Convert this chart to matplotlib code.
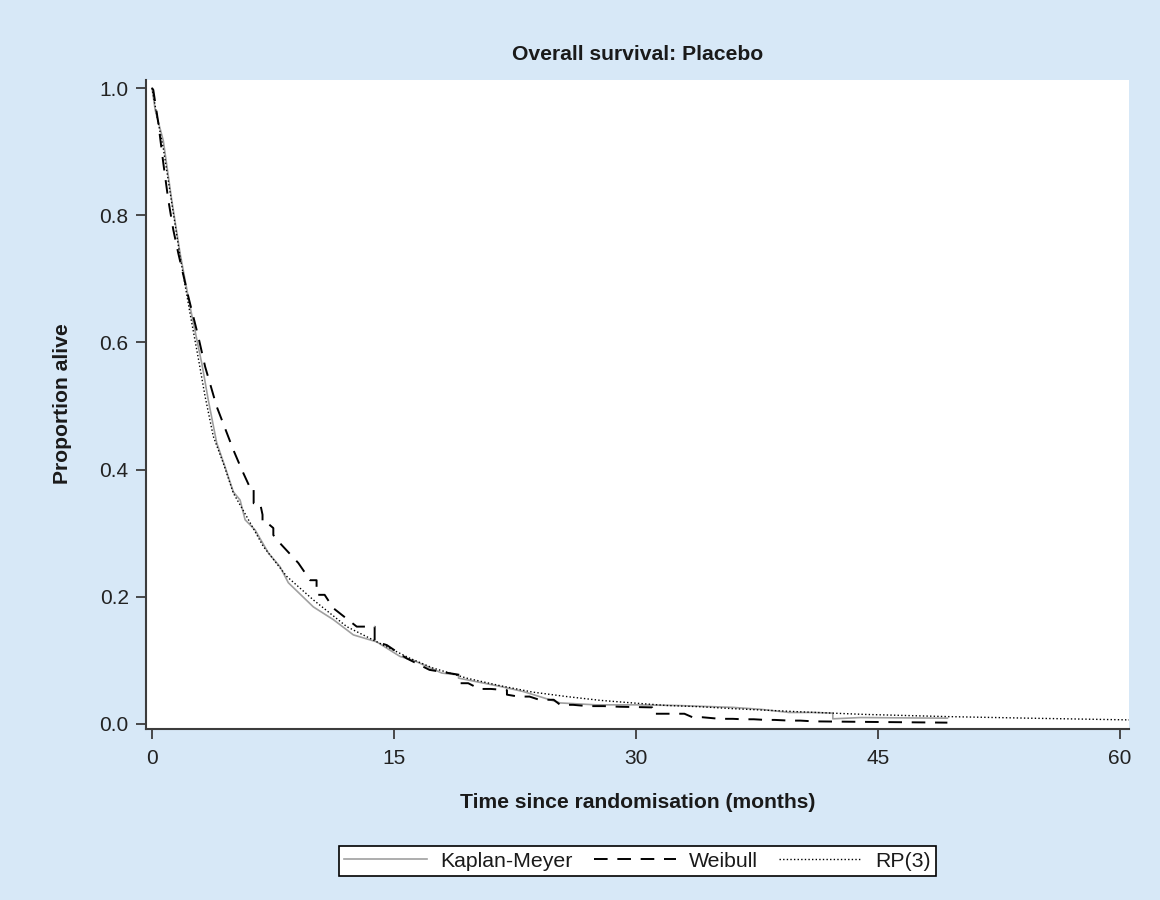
import matplotlib.pyplot as plt
from matplotlib.ticker import FormatStrFormatter

plt.rcParams['font.family'] = ['Liberation Sans', 'DejaVu Sans']

# Kaplan-Meier estimate
km_t = [0, 0.2, 0.7, 1.22, 1.74, 2.36, 2.87, 3.1, 3.49, 4.01, 4.53, 5.04, 5.46, 5.77,
        6.39, 7.21, 7.94, 8.45, 10.0, 11.24, 12.48, 13.93, 15.38, 16.2, 17.96, 19.0,
        19.0, 21.57, 23.0, 25.3, 27.5, 30.0, 32.5, 36.0, 37.7, 39.5, 41.0, 42.2, 42.2,
        43.9, 49.3]
km_s = [1.0, 0.965, 0.917, 0.824, 0.74, 0.656, 0.593, 0.565, 0.509, 0.442, 0.404, 0.365,
        0.352, 0.321, 0.305, 0.269, 0.247, 0.222, 0.184, 0.164, 0.140, 0.129, 0.106,
        0.10, 0.080, 0.077, 0.072, 0.059, 0.051, 0.033, 0.030, 0.030, 0.029, 0.026,
        0.023, 0.018, 0.018, 0.017, 0.008, 0.010, 0.009]

# Weibull fit (dashed, with steps)
wb_t = [0, 0.08, 0.39, 0.70, 1.01, 1.32, 1.63, 2.25, 2.87, 3.29, 4.01, 5.04, 5.56, 6.03,
        6.3, 6.3, 6.7, 6.85, 6.85, 7.1, 7.52, 7.52, 7.94, 9.07, 9.8, 10.2, 10.2, 10.7,
        11.24, 12.69, 13.8, 13.8, 14.55, 15.79, 17.2, 19.1, 19.1, 19.6, 20.3, 21.0, 22.0,
        22.0, 22.7, 23.4, 24.0, 24.9, 25.3, 26.1, 27.0, 28.0, 29.0, 31.0, 31.0, 33.0,
        33.5, 34.1, 35.2, 36.0, 36.6, 37.3, 38.0, 38.6, 39.5, 40.2, 41.0, 45.0, 49.3]
wb_s = [1.0, 0.997, 0.945, 0.882, 0.824, 0.777, 0.74, 0.672, 0.609, 0.562, 0.499, 0.431,
        0.40, 0.374, 0.374, 0.347, 0.347, 0.329, 0.317, 0.317, 0.308, 0.297, 0.284,
        0.253, 0.226, 0.226, 0.203, 0.203, 0.182, 0.153, 0.153, 0.13, 0.124, 0.103,
        0.085, 0.077, 0.064, 0.064, 0.055, 0.055, 0.053, 0.046, 0.043, 0.043, 0.038,
        0.038, 0.030, 0.030, 0.028, 0.028, 0.027, 0.026, 0.016, 0.016, 0.0105, 0.0105,
        0.008, 0.008, 0.0073, 0.0073, 0.0063, 0.0063, 0.0052, 0.0052, 0.004, 0.003, 0.002]

# Royston-Parmar RP(3) fit
rp_t = [0, 0.35, 0.7, 1.22, 1.74, 2.36, 2.87, 3.29, 3.8, 4.42, 5.04, 5.87, 6.9, 8.35,
        10.0, 12.07, 14.1, 16.0, 17.4, 19.5, 21.6, 23.6, 25.7, 27.8, 29.8, 31.9, 34.0,
        36.0, 38.1, 40.2, 44.1, 49.3, 54.4, 60.6]
rp_s = [1.0, 0.95, 0.905, 0.82, 0.735, 0.645, 0.575, 0.515, 0.452, 0.41, 0.363, 0.326,
        0.279, 0.232, 0.195, 0.153, 0.127, 0.103, 0.088, 0.072, 0.060, 0.050, 0.043,
        0.037, 0.033, 0.029, 0.027, 0.024, 0.0215, 0.019, 0.015, 0.0115, 0.009, 0.0063]

x_ticks = [0, 15, 30, 45, 60]
y_ticks = [0.0, 0.2, 0.4, 0.6, 0.8, 1.0]

bg = '#d7e8f7'
fig = plt.figure(figsize=(11.6, 9), dpi=100, facecolor=bg)
ax = fig.add_axes([0.1259, 0.19, 0.8474, 0.7211])
ax.set_facecolor('white')

l1, = ax.plot(km_t, km_s, color='#a0a0a0', lw=1.2, label='Kaplan-Meyer')
l2, = ax.plot(wb_t, wb_s, color='black', lw=1.4, linestyle=(0, (7, 5)), label='Weibull')
l3, = ax.plot(rp_t, rp_s, color='black', lw=1.0, linestyle=(0, (1, 1.6)), label='RP(3)')

ax.set_xlim(-0.37, 60.56)
ax.set_ylim(-0.008, 1.0126)
ax.set_xticks(x_ticks)
ax.set_yticks(y_ticks)
ax.yaxis.set_major_formatter(FormatStrFormatter('%.1f'))

for s in ['top', 'right']:
    ax.spines[s].set_visible(False)
for s in ['left', 'bottom']:
    ax.spines[s].set_color('#3c3c3c')
    ax.spines[s].set_linewidth(1.5)
ax.tick_params(length=7.5, width=1.3, color='#3c3c3c', labelsize=15,
               labelcolor='#222222')
ax.tick_params(axis='x', pad=7)
ax.tick_params(axis='y', pad=5)

fig.text(0.5496, 0.94, 'Overall survival: Placebo', ha='center', va='center',
         fontsize=15.2, fontweight='bold', color='#1a1a1a')
fig.text(0.5496, 0.108, 'Time since randomisation (months)', ha='center', va='center',
         fontsize=15.2, fontweight='bold', color='#1a1a1a')
fig.text(0.0535, 0.551, 'Proportion alive', ha='center', va='center', rotation=90,
         fontsize=15.2, fontweight='bold', color='#1a1a1a')

leg = fig.legend([l1, l2, l3], ['Kaplan-Meyer', 'Weibull', 'RP(3)'], loc='center',
                 bbox_to_anchor=(0.5496, 0.0433), ncol=3, fontsize=15.3,
                 frameon=True, fancybox=False, edgecolor='black', framealpha=1,
                 handlelength=3.9, handletextpad=0.6, columnspacing=1.0,
                 borderpad=0.25)
leg.get_frame().set_linewidth(1.2)
for t in leg.get_texts():
    t.set_color('#1a1a1a')

fig.savefig('out.png', dpi=100, facecolor=bg)
